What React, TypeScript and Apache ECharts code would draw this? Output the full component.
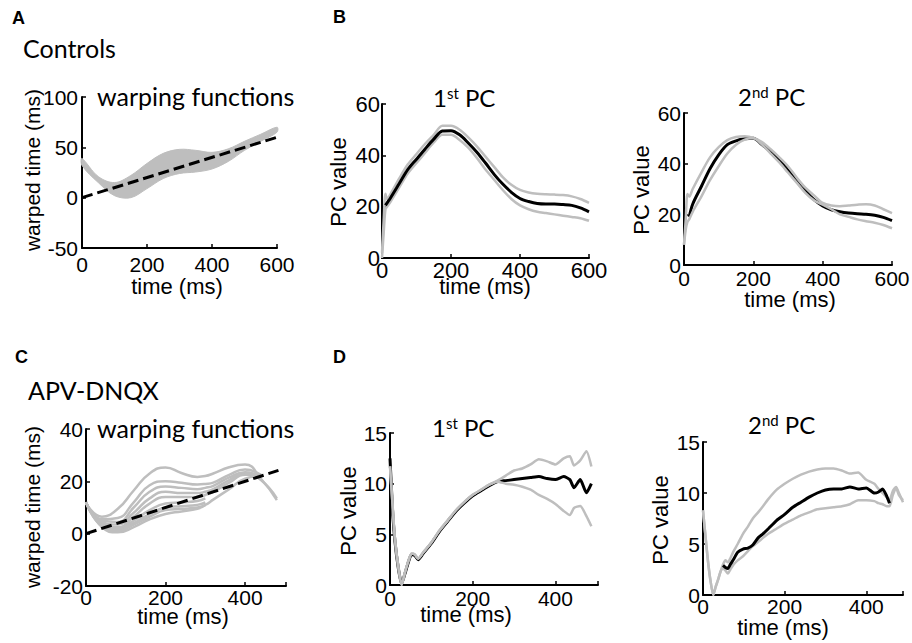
import React, { useEffect, useRef } from 'react';
import * as echarts from 'echarts';

// ---------- Panel A: Controls, warping functions (band) ----------
const aTime = [0, 50, 100, 150, 200, 250, 300, 350, 400, 450, 500, 550, 600];
const aUpper = [39, 21, 15, 22, 34, 44, 48, 47, 45, 48.5, 56, 63, 70];
const aLower = [32, 15, 2, 0, 9, 19, 24, 25.5, 28.5, 36, 47, 56, 65];
const aDiagTime = [0, 600];
const aDiagValue = [0, 60];

// ---------- Panel B: Controls, 1st and 2nd PC ----------
const bTime = [0, 5, 10, 15, 25, 50, 75, 100, 125, 150, 175, 200, 225, 250, 275, 300, 325, 350, 375, 400, 425, 450, 475, 500, 525, 550, 575, 600];
const b1Mean = [null, null, 20.5, 21.5, 23.5, 29, 34.5, 38.5, 42.5, 46.3, 49.5, 49.6, 48, 44.8, 41.2, 37, 32.6, 28.8, 25.6, 23.2, 22, 21.2, 21, 21, 20.8, 20.5, 19.5, 18];
const b1Upper = [2, 15, 25, 23, 25, 31, 36.5, 40.5, 44.5, 48, 51.5, 51.5, 50, 47, 43.5, 39.5, 35.5, 31.5, 28.5, 26.5, 25.5, 25, 24.8, 24.7, 24.5, 24, 23, 21.5];
const b1Lower = [0, 10, 19, 20, 22, 27.5, 33, 37, 41, 45, 48, 48, 46, 43, 39, 34.5, 30.5, 26.5, 23, 20.5, 19, 18, 17.5, 17, 16.5, 16, 15.5, 14.5];
const b2Mean = [null, null, null, 19, 24, 31, 38, 43.5, 47.5, 49, 49.8, 50, 47.5, 44.7, 41.5, 37.4, 33.3, 29.2, 25.8, 23.3, 21.8, 21, 20.5, 20.2, 20, 19.6, 18.8, 17.5];
const b2Upper = [8, 18, 28, 27, 30, 36.5, 42.5, 46.5, 49.3, 50.5, 50.8, 50.2, 48.5, 45.7, 42.5, 39, 34.5, 30.5, 27.5, 24.5, 23.5, 23.2, 23.5, 23.8, 24, 23.5, 22, 20.5];
const b2Lower = [8, 14, 17, 18, 21, 27, 33.5, 39, 44, 47.5, 49.5, 50, 47.5, 44, 40.5, 36.5, 32.5, 28.5, 25.5, 23.8, 22, 20, 19, 18, 17.3, 16.7, 15.8, 14.5];

// ---------- Panel C: APV-DNQX, warping functions (lines) ----------
const cTime = [0, 40, 80, 120, 160, 200, 240, 280, 300, 320, 360, 400, 440, 480];
const cWarp1 = [11.7, 6.5, 9.5, 16.5, 23, 25.3, 23.2, 21.7, 22, 23, 25.4, 26.4, 21, 12.8];
const cWarp2 = [12, 5.5, 6, 12, 18.5, 20, 19.5, 18.8, 19, 19.5, 22.5, 24.5, 22.5, null];
const cWarp3 = [12, 5, 4.5, 10, 16, 18, 17.5, 17, 17.5, 18.3, 21.5, 23.5, 20.5, 13.5];
const cWarp4 = [12, 4.5, 3.5, 8, 13.5, 16, 15.5, 15.5, 16, 17, 20.5, 23, 22.5, null];
const cWarp5 = [12, 4, 2.5, 6.5, 11.5, 14, 14, 14, 14.8, 16, 19.5, 22.5, 22, null];
const cWarp6 = [12, 3.5, 2, 5, 9, 11.5, 12, 12.5, 13.5, null, null, null, null, null];
const cWarp7 = [12, 3, 1.5, 4, 7.5, 10, 10.5, 11, 12, null, null, null, null, null];
const cWarp8 = [12, 2.5, 0.5, 2.5, 5.5, 7.5, 8.5, 9.5, 11, null, null, null, null, null];
const cWarp9 = [12, 3, 1, 3.5, 6.5, 9, 9.5, 10, 11, 13, 17, 21, 22, null];
const cDiagTime = [0, 484];
const cDiagValue = [0, 24.2];

// ---------- Panel D: APV-DNQX, 1st and 2nd PC ----------
const d1Time = [0, 6, 12, 20, 28, 36, 44, 52, 60, 68, 80, 100, 120, 140, 160, 180, 200, 220, 240, 260, 280, 300, 320, 340, 360, 380, 400, 420, 435, 445, 460, 475, 487];
const d1Upper = [11.7, 8, 4.5, 1.8, 0, 1.2, 2.3, 3.1, 3.0, 2.6, 3.2, 4.2, 5.4, 6.4, 7.4, 8.2, 8.9, 9.4, 9.9, 10.3, 10.8, 11.3, 11.5, 11.9, 12.4, 12.2, 11.9, 12.5, 12.7, 11.8, 12.3, 13.2, 11.7];
const d1Lower = [11.7, 8, 4.5, 1.8, 0, 1.2, 2.3, 3.1, 3.0, 2.6, 3.2, 4.2, 5.4, 6.4, 7.4, 8.2, 8.9, 9.4, 9.9, 10.2, 10.0, 9.9, 9.7, 9.4, 8.9, 8.5, 8.0, 7.3, 6.9, 7.6, 7.8, 6.8, 5.8];
const d1Mean = [12.5, 7.5, 4.3, 1.7, 0.1, 1.1, 2.2, 3.0, 2.9, 2.5, 3.1, 4.1, 5.3, 6.3, 7.3, 8.1, 8.8, 9.3, 9.8, 10.2, 10.3, 10.4, 10.5, 10.6, 10.7, 10.5, 10.4, 10.7, 10.4, 9.6, 10.4, 9.1, 10.0];
const d2Time = [0, 6, 12, 18, 25, 31, 37, 43, 49, 55, 61, 67, 75, 85, 98, 110, 122, 135, 147, 160, 180, 200, 220, 240, 260, 280, 300, 320, 340, 360, 380, 400, 420, 430, 440, 450, 457, 465, 473, 480, 490];
const d2Upper = [8.3, 5.8, 3.4, 1.5, 0, 0.8, 1.5, 2.3, 3.0, 3.4, 3.2, 3.6, 4.3, 5.0, 6.0, 6.7, 7.5, 8.1, 8.7, 9.4, 10.3, 10.9, 11.4, 11.8, 12.1, 12.3, 12.4, 12.4, 12.2, 11.9, 12.0, 11.3, 10.9, 10.4, 10.0, 9.6, 9.3, 10.2, 10.6, 10.0, 9.1];
const d2Lower = [8.3, 5.8, 3.4, 1.5, 0, 0.8, 1.5, 2.3, 2.6, 2.4, 2.1, 2.5, 3.0, 3.4, 3.8, 4.3, 4.8, 5.2, 5.6, 6.0, 6.5, 7.0, 7.4, 7.8, 8.1, 8.4, 8.5, 8.6, 8.7, 8.9, 9.3, 9.3, 9.2, 9.0, 8.9, 8.7, 8.7, 9.8, 10.5, 9.8, 9.3];
const d2Mean = [null, null, null, null, null, null, null, null, 2.9, 2.7, 2.6, 3.0, 3.5, 4.2, 4.5, 4.6, 4.9, 5.6, 6.0, 6.5, 7.3, 7.9, 8.6, 9.1, 9.6, 10.0, 10.3, 10.4, 10.4, 10.6, 10.4, 10.5, 10.0, 10.1, 10.4, 9.7, 9.0, null, null, null, null];

// ---------- Ticks / labels ----------
const xTicksStep = 200;
const aYTicks = { min: -50, max: 100, step: 50 };
const bYTicks = { min: 0, max: 60, step: 20 };
const cYTicks = { min: -20, max: 40, step: 20 };
const dYTicks = { min: 0, max: 15, step: 5 };

const FA = "'Liberation Sans', Arial, sans-serif";
const FT = "Lato, 'Open Sans', sans-serif";
const GRAY = '#bebebe';
const BLACK = '#000000';

const pairs = (t: number[], v: (number | null)[]) => t.map((x, i) => [x, v[i]]);

function xAx(gi: number, max: number, fs: number, margin: number) {
  return {
    gridIndex: gi, type: 'value', min: 0, max, interval: xTicksStep,
    axisLine: { show: true, onZero: false, lineStyle: { color: '#000', width: 2 } },
    axisTick: { show: true, inside: true, length: 4, lineStyle: { color: '#000', width: 1.5 } },
    splitLine: { show: false },
    axisLabel: {
      color: '#000', fontSize: fs, fontFamily: FA, margin, showMinLabel: true, showMaxLabel: true,
      formatter: (v: number) => (v % xTicksStep === 0 ? String(v) : ''),
    },
  };
}
function yAx(gi: number, t: { min: number; max: number; step: number }, fs: number, margin: number) {
  return {
    gridIndex: gi, type: 'value', min: t.min, max: t.max, interval: t.step,
    axisLine: { show: true, onZero: false, lineStyle: { color: '#000', width: 2 } },
    axisTick: { show: true, inside: true, length: 4, lineStyle: { color: '#000', width: 1.5 } },
    splitLine: { show: false },
    axisLabel: { color: '#000', fontSize: fs, fontFamily: FA, margin, showMinLabel: true, showMaxLabel: true },
  };
}
function ln(gi: number, t: number[], v: (number | null)[], color: string, width: number, extra: any = {}) {
  return {
    type: 'line', xAxisIndex: gi, yAxisIndex: gi, data: pairs(t, v), symbol: 'none', showSymbol: false,
    silent: true, smooth: 0.3, lineStyle: { color, width }, ...extra,
  };
}
// band between lower and upper envelopes, drawn through the axis scales
function band(gi: number, t: number[], lower: number[], upper: number[], color: string) {
  return {
    type: 'custom', xAxisIndex: gi, yAxisIndex: gi, silent: true, z: 1,
    data: t.map((x, i) => [x, lower[i], upper[i]]),
    encode: { x: 0, y: [1, 2] },
    renderItem: (params: any, api: any) => {
      if (params.dataIndex !== 0) return null;
      const up = t.map((x, i) => api.coord([x, upper[i]]));
      const lo = t.map((x, i) => api.coord([x, lower[i]])).reverse();
      return {
        type: 'polygon',
        shape: { points: up.concat(lo), smooth: 0.35 },
        style: { fill: color, stroke: color, lineWidth: 1 },
      };
    },
  };
}
function txt(x: number, y: number, text: string, fontSize: number, fontFamily: string, extra: any = {}, styleExtra: any = {}) {
  return {
    type: 'text', x, y, silent: true, ...extra,
    style: { text, fontSize, fontFamily, fill: '#000', align: 'left', verticalAlign: 'middle', ...styleExtra },
  };
}
function supTitle(x: number, y: number, n: string, s: string) {
  return {
    type: 'text', x, y, silent: true,
    style: {
      text: `{n|${n}}{s|${s}}{n| PC}`, fill: '#000', align: 'left', verticalAlign: 'middle',
      rich: {
        n: { fontSize: 24, fontFamily: FT, fill: '#000' },
        s: { fontSize: 15, fontFamily: FT, fill: '#000', verticalAlign: 'top' },
      },
    },
  };
}
function yName(x: number, y: number, text: string, fs: number) {
  return txt(x, y, text, fs, FA, { rotation: Math.PI / 2 }, { align: 'center' });
}
function xName(x: number, y: number, text: string, fs: number) {
  return txt(x, y, text, fs, FA, {}, { align: 'center' });
}

export default function App() {
  const ref = useRef<HTMLDivElement>(null);
  useEffect(() => {
    if (!ref.current) return;
    const chart = echarts.init(ref.current, null, { renderer: 'svg' });
    const grids = [
      { left: 82, top: 97, width: 195, height: 151 },
      { left: 382, top: 104, width: 207, height: 154 },
      { left: 684, top: 113, width: 208, height: 152 },
      { left: 86, top: 429, width: 200, height: 157 },
      { left: 390, top: 433, width: 208, height: 152 },
      { left: 703, top: 442, width: 200, height: 153 },
    ].map((g) => ({ ...g, containLabel: false, outerBoundsMode: 'none' }));

    const option: any = {
      animation: false,
      backgroundColor: '#ffffff',
      grid: grids,
      xAxis: [
        xAx(0, 600, 21, 6),
        xAx(1, 600, 22, 1),
        xAx(2, 600, 21, 3),
        xAx(3, 503, 21, 1),
        xAx(4, 503, 21, 3),
        xAx(5, 490, 21, 1),
      ],
      yAxis: [
        yAx(0, aYTicks, 21, 4),
        yAx(1, bYTicks, 22, 2),
        yAx(2, bYTicks, 21, 3),
        yAx(3, cYTicks, 21, 3),
        yAx(4, dYTicks, 21, 3),
        yAx(5, dYTicks, 21, 3),
      ],
      series: [
        // A band
        band(0, aTime, aLower, aUpper, GRAY),
        ln(0, aDiagTime, aDiagValue, BLACK, 3, { smooth: false, z: 3, lineStyle: { color: BLACK, width: 3, type: [11, 5] } }),
        // B1
        ln(1, bTime, b1Upper, GRAY, 2.5),
        ln(1, bTime, b1Lower, GRAY, 2.5),
        ln(1, bTime, b1Mean, BLACK, 3),
        // B2
        ln(2, bTime, b2Mean, BLACK, 3),
        ln(2, bTime, b2Upper, GRAY, 2.5),
        ln(2, bTime, b2Lower, GRAY, 2.5),
        // C
        ...[cWarp1, cWarp2, cWarp3, cWarp4, cWarp5, cWarp6, cWarp7, cWarp8, cWarp9].map((w) =>
          ln(3, cTime, w, GRAY, 2.5, { smooth: 0.5 })
        ),
        ln(3, cDiagTime, cDiagValue, BLACK, 3, { smooth: false, lineStyle: { color: BLACK, width: 3, type: [11, 5] } }),
        // D1
        ln(4, d1Time, d1Mean, BLACK, 3, { smooth: 0.2 }),
        ln(4, d1Time, d1Upper, GRAY, 2.5, { smooth: 0.2 }),
        ln(4, d1Time, d1Lower, GRAY, 2.5, { smooth: 0.2 }),
        // D2
        ln(5, d2Time, d2Upper, GRAY, 2.5, { smooth: 0.2 }),
        ln(5, d2Time, d2Lower, GRAY, 2.5, { smooth: 0.2 }),
        ln(5, d2Time, d2Mean, BLACK, 3, { smooth: 0.2 }),
      ],
      graphic: [
        txt(12, 18, 'A', 18, FA, {}, { fontWeight: 'bold' }),
        txt(333, 17, 'B', 18, FA, {}, { fontWeight: 'bold' }),
        txt(15, 357, 'C', 18, FA, {}, { fontWeight: 'bold' }),
        txt(333, 357, 'D', 18, FA, {}, { fontWeight: 'bold' }),
        txt(23, 48, 'Controls', 25, FT),
        txt(28, 390, 'APV-DNQX', 25, FT),
        txt(97, 96, 'warping functions', 25, FT),
        txt(97, 428, 'warping functions', 25, FT),
        supTitle(433, 97, '1', 'st'),
        supTitle(738, 96, '2', 'nd'),
        supTitle(432, 427, '1', 'st'),
        supTitle(748, 424, '2', 'nd'),
        yName(32, 170, 'warped time (ms)', 21),
        yName(338, 182, 'PC value', 22),
        yName(641, 190, 'PC value', 22),
        yName(32, 507, 'warped time (ms)', 21),
        yName(348, 511, 'PC value', 22),
        yName(660, 520, 'PC value', 22),
        xName(177, 286, 'time (ms)', 22),
        xName(485, 286, 'time (ms)', 22),
        xName(790, 299, 'time (ms)', 22),
        xName(183, 616, 'time (ms)', 22),
        xName(466, 614, 'time (ms)', 22),
        xName(783, 627, 'time (ms)', 22),
      ],
    };
    chart.setOption(option);
    return () => chart.dispose();
  }, []);
  return <div ref={ref} style={{ position: 'fixed', left: 0, top: 0, width: 912, height: 643, background: '#fff' }} />;
}
